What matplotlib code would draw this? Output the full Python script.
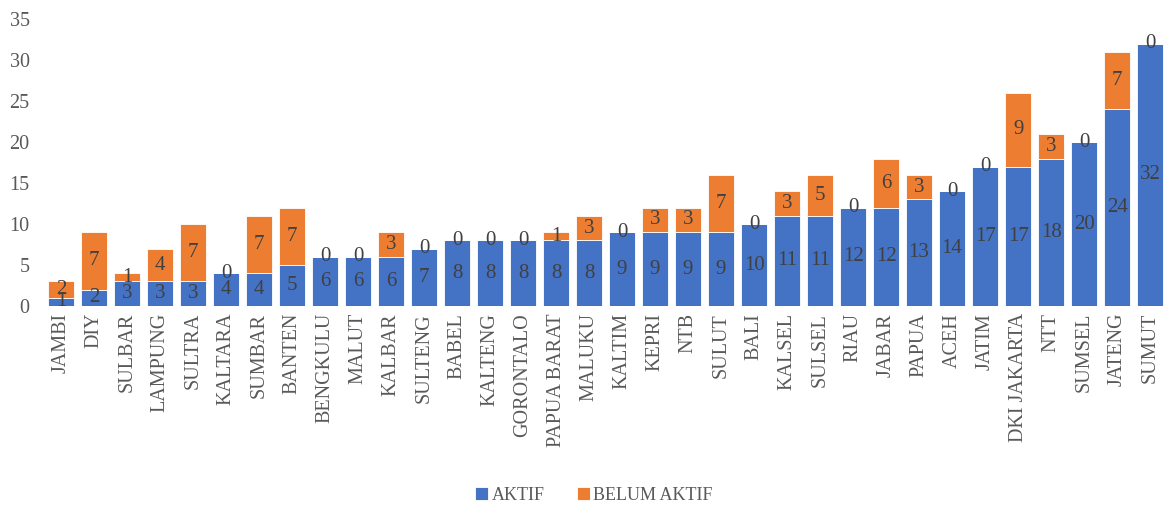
import matplotlib.pyplot as plt
import numpy as np

provinsi = ["JAMBI", "DIY", "SULBAR", "LAMPUNG", "SULTRA", "KALTARA", "SUMBAR", "BANTEN",
            "BENGKULU", "MALUT", "KALBAR", "SULTENG", "BABEL", "KALTENG", "GORONTALO",
            "PAPUA BARAT", "MALUKU", "KALTIM", "KEPRI", "NTB", "SULUT", "BALI", "KALSEL",
            "SULSEL", "RIAU", "JABAR", "PAPUA", "ACEH", "JATIM", "DKI JAKARTA", "NTT",
            "SUMSEL", "JATENG", "SUMUT"]
aktif = [1, 2, 3, 3, 3, 4, 4, 5, 6, 6, 6, 7, 8, 8, 8, 8, 8, 9, 9, 9, 9, 10, 11,
         11, 12, 12, 13, 14, 17, 17, 18, 20, 24, 32]
belum_aktif = [2, 7, 1, 4, 7, 0, 7, 7, 0, 0, 3, 0, 0, 0, 0, 1, 3, 0, 3, 3, 7, 0, 3,
               5, 0, 6, 3, 0, 0, 9, 3, 0, 7, 0]

plt.rcParams['font.family'] = ['Liberation Serif', 'DejaVu Serif']

fig = plt.figure(figsize=(11.65, 5.05), dpi=100)
ax = fig.add_axes([0.035, 0.394, 0.965, 0.568])

x = np.arange(len(provinsi))
b1 = ax.bar(x, aktif, width=0.79, color="#4472C4", edgecolor="white", linewidth=0.6, label="AKTIF")
b2 = ax.bar(x, belum_aktif, width=0.79, bottom=aktif, color="#ED7D31", edgecolor="white",
            linewidth=0.6, label="BELUM AKTIF")

ax.bar_label(b1, labels=[str(v) for v in aktif], label_type="center", fontsize=15, color="#404040")
ax.bar_label(b2, labels=[str(v) for v in belum_aktif], label_type="center", fontsize=15, color="#404040")

ax.set_ylim(0, 35)
ax.set_yticks(range(0, 36, 5))
ax.set_xlim(-0.61, 33.45)
ax.set_xticks(x)
ax.set_xticklabels(provinsi, rotation=90)
ax.tick_params(axis="both", length=0, labelsize=14.5, labelcolor="#595959")
ax.tick_params(axis="x", pad=5)
ax.tick_params(axis="y", pad=8)
for s in ax.spines.values():
    s.set_visible(False)

fig.legend(handles=[b1, b2], loc="lower center", ncol=2, frameon=False, fontsize=13,
           bbox_to_anchor=(0.51, -0.03), handlelength=0.7, handleheight=0.7,
           columnspacing=1.8, handletextpad=0.2, labelcolor="#595959")

fig.savefig("out.png", dpi=100)
